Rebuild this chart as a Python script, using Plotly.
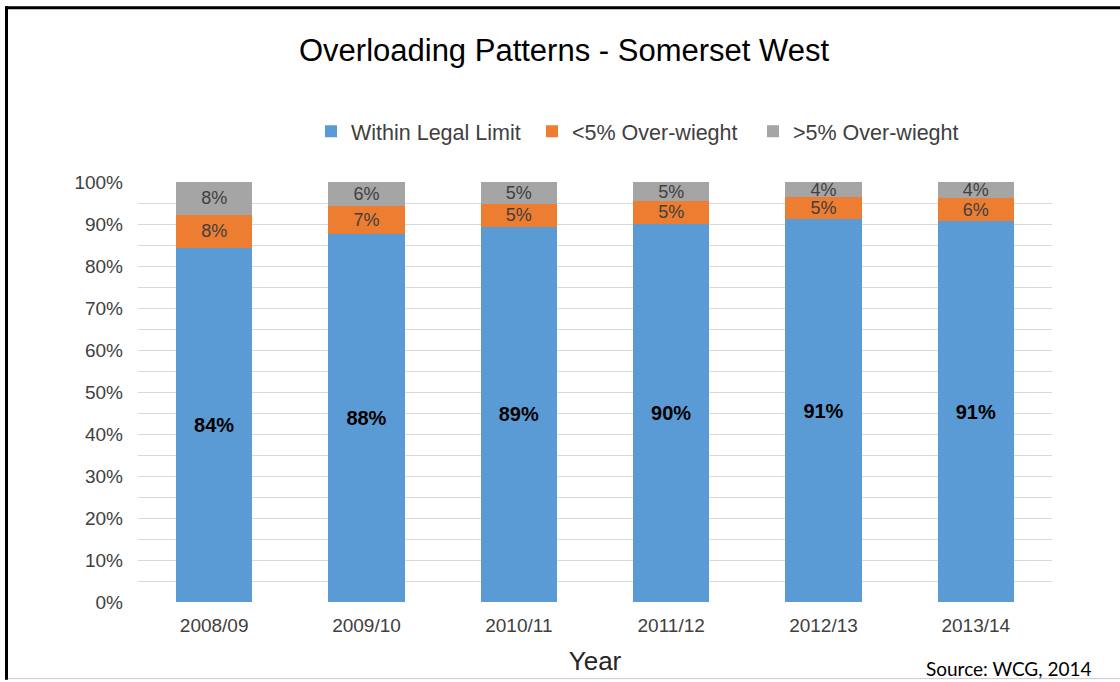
import plotly.graph_objects as go

# Share of weighed vehicles per survey year (percent)
years = ["2008/09", "2009/10", "2010/11", "2011/12", "2012/13", "2013/14"]
within_limit = [84.4, 87.7, 89.4, 90.1, 91.1, 90.6]
under_5_over = [7.8, 6.7, 5.3, 5.3, 5.3, 5.6]
over_5_over = [7.8, 5.6, 5.3, 4.6, 3.6, 3.8]

series_names = ["Within Legal Limit", "<5% Over-wieght", ">5% Over-wieght"]
series_colors = ["#5B9BD5", "#ED7D31", "#A5A5A5"]
y_ticks = list(range(0, 101, 10))

W, H = 1120, 682
ML, MR, MT, MB = 138, 68, 182, 78
PW, PH = W - ML - MR, H - MT - MB


def px_x(px):
    return (px - ML) / PW


def px_y(py):
    return (H - MB - py) / PH


def pct_labels(vals):
    return [f"{round(v)}%" for v in vals]


fig = go.Figure()
for name, vals, color in zip(series_names, [within_limit, under_5_over, over_5_over], series_colors):
    is_main = name == series_names[0]
    fig.add_trace(go.Bar(
        x=years,
        y=vals,
        name=name,
        marker=dict(color=color, line=dict(width=0)),
        text=pct_labels(vals),
        textposition="inside",
        insidetextanchor="middle",
        textangle=0,
        constraintext="none",
        textfont=dict(
            family="Liberation Sans, Arial, sans-serif",
            size=20 if is_main else 18,
            color="#000000" if is_main else "#404040",
            weight="bold" if is_main else "normal",
        ),
        hoverinfo="skip",
    ))

fig.update_layout(
    width=W,
    height=H,
    margin=dict(l=ML, r=MR, t=MT, b=MB),
    paper_bgcolor="white",
    plot_bgcolor="white",
    barmode="stack",
    bargap=0.5,
    font=dict(family="Liberation Sans, Arial, sans-serif", color="#595959"),
    title=dict(
        text="Overloading Patterns - Somerset West",
        x=564 / W,
        xanchor="center",
        y=1 - 50 / H,
        yanchor="middle",
        yref="container",
        font=dict(size=31, color="#000000"),
    ),
    legend=dict(
        orientation="h",
        x=px_x(311),
        xanchor="left",
        y=px_y(131),
        yanchor="middle",
        font=dict(size=21.5, color="#404040"),
        bgcolor="rgba(0,0,0,0)",
        traceorder="normal",
        entrywidth=176,
        entrywidthmode="pixels",
    ),
    showlegend=True,
)

fig.update_xaxes(
    showgrid=False,
    showline=False,
    ticks="",
    tickfont=dict(size=19, color="#404040"),
    ticklabelstandoff=10,
    title=dict(text="Year", font=dict(size=26, color="#262626"), standoff=16),
)

fig.update_yaxes(
    range=[0, 100],
    tickvals=y_ticks,
    ticktext=[f"{t}%" for t in y_ticks],
    showgrid=True,
    gridcolor="#D9D9D9",
    gridwidth=1,
    minor=dict(dtick=5, showgrid=True, gridcolor="#D9D9D9", gridwidth=1),
    zeroline=False,
    showline=False,
    ticks="",
    tickfont=dict(size=19, color="#404040"),
    ticklabelstandoff=14,
)

# Outer frame: heavy black top and left edges, thin grey bottom edge
fig.add_shape(type="line", xref="paper", yref="paper",
              x0=px_x(5), x1=px_x(W), y0=px_y(7), y1=px_y(7),
              line=dict(color="#000000", width=3))
fig.add_shape(type="line", xref="paper", yref="paper",
              x0=px_x(6.5), x1=px_x(6.5), y0=px_y(5.5), y1=px_y(H),
              line=dict(color="#000000", width=3))
fig.add_shape(type="line", xref="paper", yref="paper",
              x0=px_x(8), x1=px_x(W), y0=px_y(681), y1=px_y(681),
              line=dict(color="#C8C8C8", width=1))

fig.add_annotation(
    text="Source: WCG, 2014",
    xref="paper", yref="paper",
    x=px_x(1093), xanchor="right",
    y=px_y(671), yanchor="middle",
    showarrow=False,
    font=dict(family="Lato, Open Sans, sans-serif", size=19, color="#000000"),
)

fig.write_html("out.html")
